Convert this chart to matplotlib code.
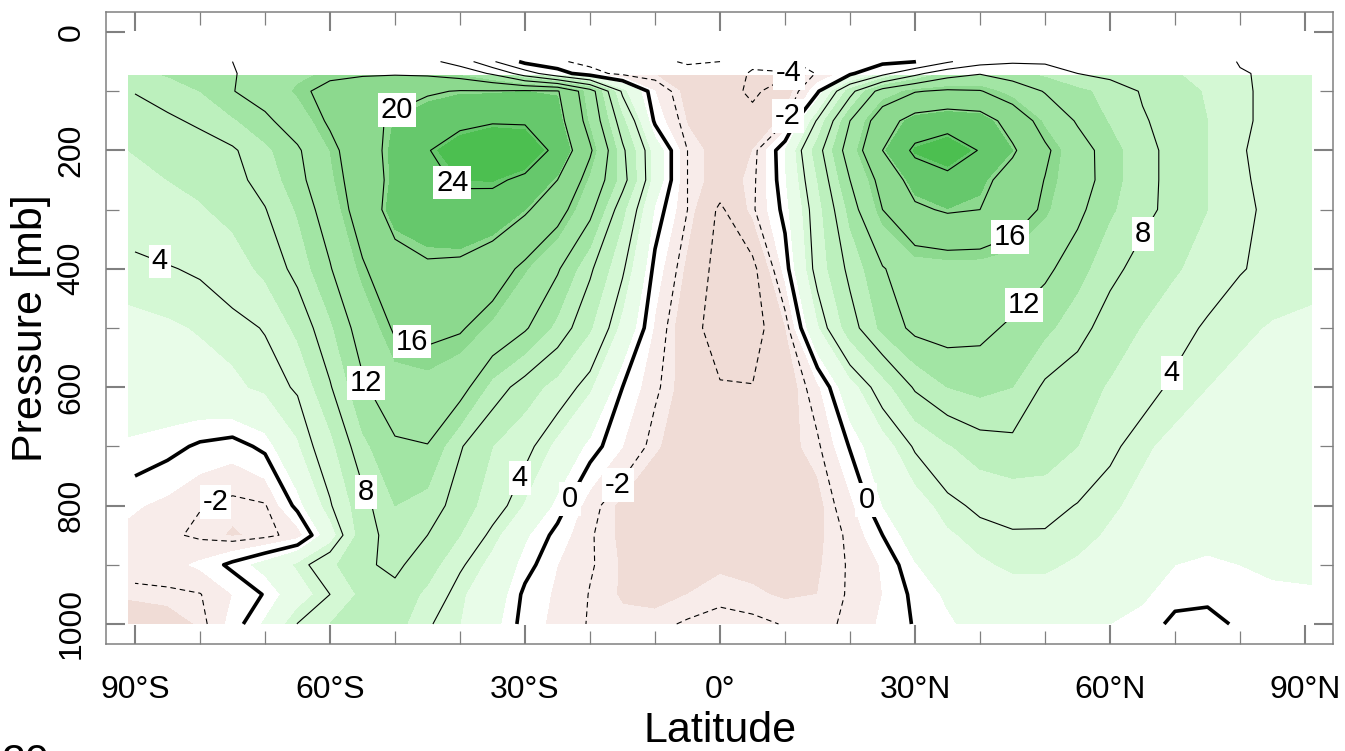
import numpy as np
import matplotlib
matplotlib.use("Agg")
import matplotlib.pyplot as plt
from matplotlib.patches import Rectangle

plt.rcParams['font.family'] = ['Liberation Sans', 'DejaVu Sans']

# ---------------- data: zonal-mean wind [m/s], rows = pressure levels ----------------
LATS = np.arange(-90, 91, 5)
PRESSURE = [50, 70, 100, 150, 200, 250, 300, 400, 500, 600, 700, 800, 850, 900, 950, 1000]

#          90S ... 5 deg steps ... 90N
u_50   = [10.5, 11.0, 11.4, 12.0, 12.8, 13.4, 13.8, 14.0, 13.8, 13.0, 10.5, 4.5, -1.0, -1.8, -2.4, -2.7, -2.4, -1.8, -2.0, -3.6, -2.2, -1.5, -1.2, -0.8, -0.1, 3.5, 6.5, 7.6, 7.6, 7.3, 7.0, 6.3, 5.6, 4.8, 3.9, 3.4, 3.2]
u_70   = [9.5, 10.2, 11.0, 11.8, 13.2, 14.5, 15.3, 15.6, 15.7, 15.4, 14.3, 11.5, 6.0, 1.2, -1.5, -2.4, -2.6, -2.6, -3.0, -4.2, -4.3, -1.8, -0.5, 3.0, 7.0, 10.5, 11.8, 10.5, 9.5, 8.0, 7.3, 6.7, 6.1, 5.4, 4.1, 3.8, 3.4]
u_100  = [8.1, 9.0, 10.0, 11.9, 13.3, 15.3, 17.0, 18.0, 18.8, 19.6, 20.2, 20.2, 20.5, 20.3, 13.6, 3.5, -1.0, -3.0, -3.3, -4.3, -3.2, -0.3, 7.0, 13.5, 15.8, 16.5, 16.2, 14.0, 11.8, 10.5, 9.3, 7.8, 6.8, 5.8, 4.2, 3.7, 3.4]
u_150  = [7.0, 7.6, 8.4, 9.7, 11.4, 13.6, 16.5, 18.8, 20.6, 22.0, 23.0, 23.6, 23.6, 21.5, 14.5, 6.5, -0.3, -2.6, -3.4, -3.5, -2.2, 4.3, 12.0, 18.3, 21.5, 22.3, 21.8, 18.5, 14.5, 11.7, 9.8, 8.2, 7.2, 6.0, 4.2, 3.7, 3.3]
u_200  = [6.0, 6.6, 7.0, 7.7, 9.5, 11.6, 15.0, 18.5, 21.0, 23.8, 26.0, 27.5, 26.5, 23.0, 16.5, 8.5, 2.0, -2.0, -3.0, -2.5, 1.0, 7.0, 13.5, 20.0, 24.8, 26.2, 23.8, 20.5, 16.6, 13.3, 10.8, 8.7, 7.3, 6.0, 4.1, 3.6, 3.2]
u_250  = [5.6, 6.0, 6.5, 7.3, 8.8, 11.1, 14.5, 18.0, 21.0, 23.0, 24.5, 24.6, 23.3, 20.0, 14.5, 9.0, 2.0, -2.0, -3.0, -2.3, 0.8, 6.0, 12.0, 17.2, 21.6, 23.0, 21.0, 18.5, 15.9, 13.4, 10.8, 8.7, 7.3, 6.0, 4.2, 3.6, 3.2]
u_300  = [5.0, 5.3, 5.8, 6.6, 7.9, 10.2, 13.5, 17.8, 21.5, 22.0, 22.8, 22.5, 20.5, 17.5, 12.8, 6.5, 0.8, -2.0, -4.3, -2.2, 0.4, 5.2, 10.6, 16.0, 19.4, 20.4, 20.0, 18.0, 15.4, 12.6, 10.3, 8.6, 7.3, 6.0, 4.3, 3.7, 3.3]
u_400  = [3.6, 3.9, 4.2, 5.0, 6.5, 8.7, 11.8, 15.6, 18.5, 19.6, 19.3, 17.8, 15.2, 12.3, 8.4, 4.3, -0.4, -2.8, -4.6, -4.5, -0.6, 4.8, 8.6, 11.8, 13.8, 14.0, 14.0, 13.6, 12.5, 10.8, 8.6, 7.2, 6.2, 5.2, 4.1, 3.6, 3.3]
u_500  = [2.6, 2.8, 3.1, 3.5, 4.1, 6.5, 9.6, 13.3, 16.4, 16.7, 16.3, 14.5, 12.3, 9.4, 6.2, 2.4, -1.2, -3.4, -4.7, -4.8, -2.6, 2.7, 7.0, 10.5, 12.6, 13.0, 12.6, 11.6, 10.5, 8.8, 7.0, 5.9, 4.8, 3.7, 3.2, 2.9, 2.8]
u_600  = [2.0, 2.2, 2.4, 2.7, 3.3, 4.2, 7.8, 11.6, 13.9, 14.3, 13.2, 9.2, 7.0, 5.2, 3.2, 0.0, -1.8, -3.0, -3.9, -3.95, -3.3, -1.3, 2.2, 5.0, 8.3, 10.0, 10.6, 10.0, 7.6, 6.8, 5.8, 4.8, 3.6, 3.0, 2.7, 2.5, 2.5]
u_700  = [0.8, 0.4, -0.2, -0.5, 0.3, 2.8, 5.3, 9.5, 11.6, 11.9, 8.2, 6.0, 4.6, 2.5, 0.6, -1.0, -2.4, -3.0, -3.2, -3.1, -2.8, -2.2, 0.1, 2.2, 4.2, 5.8, 7.0, 7.4, 7.2, 6.0, 4.4, 3.2, 2.6, 2.3, 2.2, 2.1, 2.0]
u_800  = [-0.8, -1.3, -1.95, -2.3, -2.1, 0.4, 3.8, 7.2, 10.0, 9.2, 7.0, 5.0, 2.8, 0.6, -1.6, -2.8, -3.2, -3.3, -3.2, -3.2, -3.1, -2.8, -1.3, 1.0, 2.3, 3.5, 4.4, 4.8, 4.7, 3.9, 3.2, 2.6, 2.0, 1.8, 1.8, 1.8, 1.8]
u_850  = [-1.3, -1.8, -2.2, -2.6, -2.3, -1.6, 2.0, 7.0, 9.0, 8.0, 6.0, 3.5, 1.2, -0.4, -1.9, -2.7, -3.0, -3.0, -2.8, -2.9, -3.0, -2.7, -1.8, 0.0, 1.8, 2.8, 3.4, 3.8, 3.8, 3.4, 2.8, 2.2, 1.6, 1.4, 1.5, 1.6, 1.6]
u_900  = [-1.5, -1.4, -0.8, 0.3, 1.5, 3.2, 5.5, 7.7, 8.4, 7.0, 4.3, 2.4, 0.5, -1.0, -1.9, -2.6, -2.9, -2.8, -2.6, -2.7, -2.8, -2.6, -1.9, -0.9, 0.9, 2.0, 2.8, 3.2, 3.2, 2.8, 2.2, 1.6, 1.0, 0.8, 1.0, 1.2, 1.2]
u_950  = [-2.3, -2.2, -2.05, -1.0, 0.1, 2.0, 4.0, 6.5, 7.5, 5.5, 3.2, 2.0, -0.3, -1.2, -2.05, -2.6, -2.8, -2.5, -2.3, -2.4, -2.6, -2.5, -1.9, -1.0, 0.3, 1.2, 2.0, 2.5, 2.5, 2.2, 1.8, 1.2, 0.4, 0.3, 0.6, 0.8, 0.9]
u_1000 = [-3.5, -3.0, -2.4, -0.6, 1.2, 4.05, 6.0, 7.0, 7.0, 4.2, 3.0, 1.5, -0.5, -1.3, -2.1, -2.3, -2.2, -1.9, -1.6, -1.8, -2.05, -2.3, -1.8, -0.8, 0.1, 0.8, 1.5, 1.8, 1.8, 1.5, 1.0, 0.6, -0.3, -0.4, 0.2, 0.5, 0.6]

TICK_LATS = [-90, -60, -30, 0, 30, 60, 90]
TICK_LAT_LABELS = ["90°S", "60°S", "30°S", "0°", "30°N", "60°N", "90°N"]
TICK_P = [0, 200, 400, 600, 800, 1000]

LINE_LEVELS = [-4, -2, 0, 4, 8, 12, 16, 20, 24]

FILL_LEVELS = [-30, -2.5, -1, 1, 3, 6, 10, 15, 20.5, 24.5, 60]
FILL_COLORS = ['#f0dcd6', '#f8ecea', '#ffffff', '#e8fce8', '#d4f8d4',
               '#bcf0bd', '#a2e5a4', '#8cd98e', '#66c86c', '#4cbf50']

# where the inline labels sit (level, lat, pressure)
LABEL_SPOTS = [
    (20, -50.0, 127), (24, -40.8, 250), (16, -47.4, 524), (12, -54.6, 593),
    (8, -55.1, 779), (4, -85.4, 368), (4, -30.0, 757), (0, -22.6, 791),
    (-2, -14.6, 774), (-2, -77.2, 804), (-4, 13.2, 81), (-2, 11.1, 144),
    (16, 44.9, 353), (12, 47.2, 465), (8, 64.9, 340), (4, 70.0, 579),
    (0, 22.3, 791),
]

u = np.array([u_50, u_70, u_100, u_150, u_200, u_250, u_300, u_400,
              u_500, u_600, u_700, u_800, u_850, u_900, u_950, u_1000])
p = np.array(PRESSURE, dtype=float)

# ---------------- figure ----------------
fig = plt.figure(figsize=(13.45, 7.51), dpi=100, facecolor='white')
ax = fig.add_axes([106 / 1345, 1 - 644 / 751, 1227 / 1345, 632 / 751])

# shading (only drawn from 70 mb down, slightly wider than the grid)
lat_fill = LATS.astype(float)
lat_fill[0], lat_fill[-1] = -91, 91
cf = ax.contourf(lat_fill, p, u, levels=FILL_LEVELS, colors=FILL_COLORS)
cf.set_clip_path(Rectangle((-91, 73), 182, 927, transform=ax.transData))

# contour lines, one set per level so labels can be placed by level
line_sets = {}
for lev in LINE_LEVELS:
    if lev < 0:
        style, lw = (0, (5, 3.5)), 0.8
    elif lev == 0:
        style, lw = 'solid', 2.6
    else:
        style, lw = 'solid', 0.8
    line_sets[lev] = ax.contour(LATS, p, u, levels=[lev], colors='k',
                                linewidths=lw, linestyles=[style])

for lev, x, y in LABEL_SPOTS:
    line_sets[lev].clabel(manual=[(x, y)], inline=False, fmt='%d', fontsize=21)

for cs in line_sets.values():
    for t in cs.labelTexts:
        t.set_rotation(0)
        t.set_bbox(dict(boxstyle='square,pad=0.1', fc='white', ec='none'))
        t.set_zorder(5)

# ---------------- axes ----------------
ax.set_xlim(-94.46, 94.3)
ax.set_ylim(1033.8, -33.8)
ax.set_xticks(TICK_LATS)
ax.set_xticklabels(TICK_LAT_LABELS)
ax.set_xticks(np.arange(-90, 91, 10), minor=True)
ax.set_yticks(TICK_P)
ax.set_yticks(np.arange(0, 1001, 100), minor=True)

ax.tick_params(which='both', direction='in', top=True, right=True, color='#808080')
ax.tick_params(which='major', length=14, width=1.5, labelsize=23)
ax.tick_params(which='minor', length=9.5, width=0.9)
ax.tick_params(axis='x', which='major', pad=22)
ax.tick_params(axis='y', which='major', pad=14)
for lbl in ax.get_yticklabels():
    lbl.set_rotation(90)
    lbl.set_va('center')

for sp in ax.spines.values():
    sp.set_color('#808080')
    sp.set_linewidth(1.1)

fig.text(720 / 1345, 1 - 742 / 751, "Latitude", ha='center', va='baseline', fontsize=31)
fig.text(31 / 1345, 1 - 328 / 751, "Pressure [mb]", ha='center', va='center',
         rotation=90, fontsize=31)
# figure number, cut off at the bottom edge as in the source
fig.text(2 / 1345, 1 - 774 / 751, "20", ha='left', va='baseline', fontsize=31)

fig.savefig("out.png", dpi=100)
